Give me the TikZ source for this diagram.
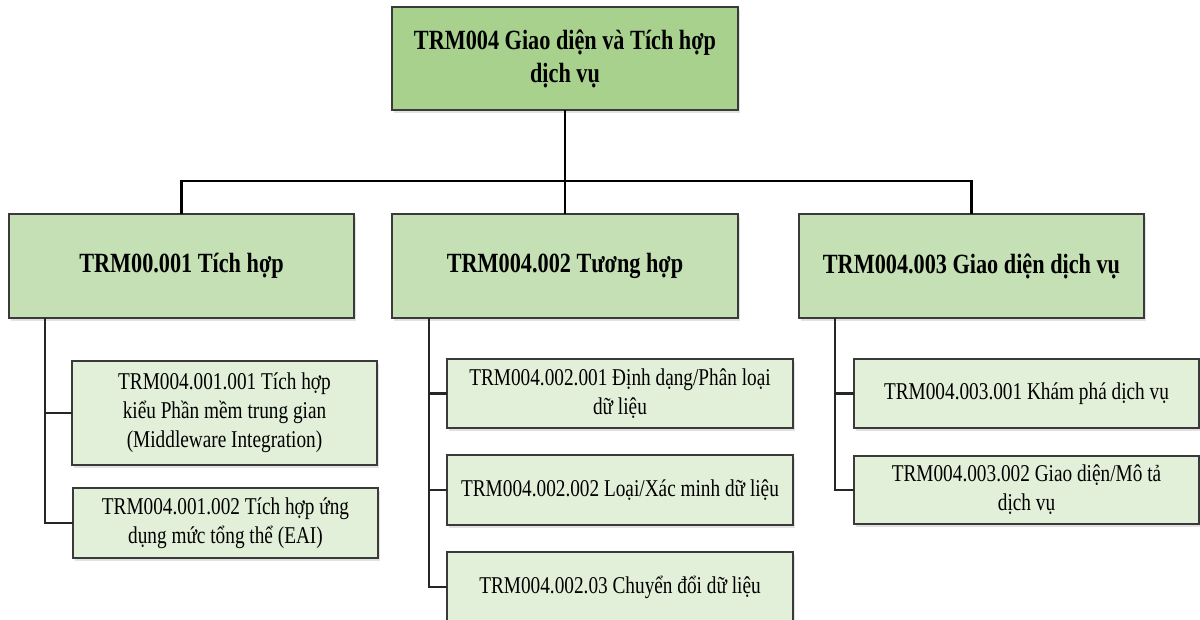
\documentclass[tikz,border=0pt]{standalone}
\usepackage{fontspec}
\setmainfont{Liberation Serif}[FakeStretch=0.8]
\usepackage{xcolor}
\usetikzlibrary{shadows}
\definecolor{edge}{HTML}{3a3a3a}
\definecolor{rootfill}{HTML}{A9D18E}
\definecolor{midfill}{HTML}{C5E0B4}
\definecolor{leaffill}{HTML}{E2F0D9}
\newcommand{\headfont}{\fontsize{27.8}{33}\selectfont\bfseries}
\newcommand{\leaffont}{\fontsize{24.1}{29}\selectfont}
\tikzset{
  box/.style={draw=edge, line width=1.4pt, align=center, inner sep=2pt, outer sep=0pt,
    drop shadow={shadow xshift=2pt, shadow yshift=-3pt, fill=black!25, opacity=.45}},
  rootbox/.style={box, fill=rootfill, font=\headfont, minimum width=346, minimum height=103},
  midbox/.style={box, fill=midfill, font=\headfont, minimum width=345, minimum height=104},
  leafbox/.style={box, fill=leaffill, font=\leaffont, minimum height=70},
  link/.style={draw=black, line width=2.6pt},
  sublink/.style={draw=black!85, line width=2pt},
}

\begin{document}
\begin{tikzpicture}[x=1pt, y=1pt]
\useasboundingbox[fill=white] (0,0) rectangle (1200,-620);

% top level
\node[rootbox] (root) at (565,-58.5) {TRM004 Giao diện và Tích hợp\\dịch vụ};

% second level
\node[midbox] (tA) at (181.5,-266) {TRM00.001 Tích hợp};
\node[midbox, minimum width=346] (tB) at (565,-266) {TRM004.002 Tương hợp};
\node[midbox] (tC) at (971.5,-266) {TRM004.003 Giao diện dịch vụ};

\coordinate (bus) at (565,-181);
\draw[link] (root.south) -- (tB.north);
\draw[link] (tA.north) |- (bus) -| (tC.north);

% leaves under TRM004.001
\node[leafbox, minimum width=305, minimum height=104] (a1) at (224.5,-413) {TRM004.001.001 Tích hợp\\kiểu Phần mềm trung gian\\(Middleware Integration)};
\node[leafbox, minimum width=305] (a2) at (225.5,-523) {TRM004.001.002 Tích hợp ứng\\dụng mức tổng thể (EAI)};

% leaves under TRM004.002
\node[leafbox, minimum width=346, minimum height=69] (b1) at (620,-393.5) {TRM004.002.001 Định dạng/Phân loại\\dữ liệu};
\node[leafbox, minimum width=346] (b2) at (620,-490) {TRM004.002.002 Loại/Xác minh dữ liệu};
\node[leafbox, minimum width=346] (b3) at (620,-587) {TRM004.002.03 Chuyển đổi dữ liệu};

% leaves under TRM004.003
\node[leafbox, minimum width=345, minimum height=69] (c1) at (1026.5,-393.5) {TRM004.003.001 Khám phá dịch vụ};
\node[leafbox, minimum width=345, minimum height=68] (c2) at (1026.5,-490) {TRM004.003.002 Giao diện/Mô tả\\dịch vụ};

\draw[sublink] ([xshift=36pt]tA.south west) |- (a2.west);
\draw[sublink] ([xshift=36pt]tA.south west) |- (a1.west);
\draw[sublink] ([xshift=37pt]tB.south west) |- (b3.west);
\draw[sublink] ([xshift=37pt]tB.south west) |- (b2.west);
\draw[sublink] ([xshift=37pt]tB.south west) |- (b1.west);
\draw[sublink] ([xshift=36pt]tC.south west) |- (c2.west);
\draw[sublink] ([xshift=36pt]tC.south west) |- (c1.west);
\end{tikzpicture}
\end{document}
